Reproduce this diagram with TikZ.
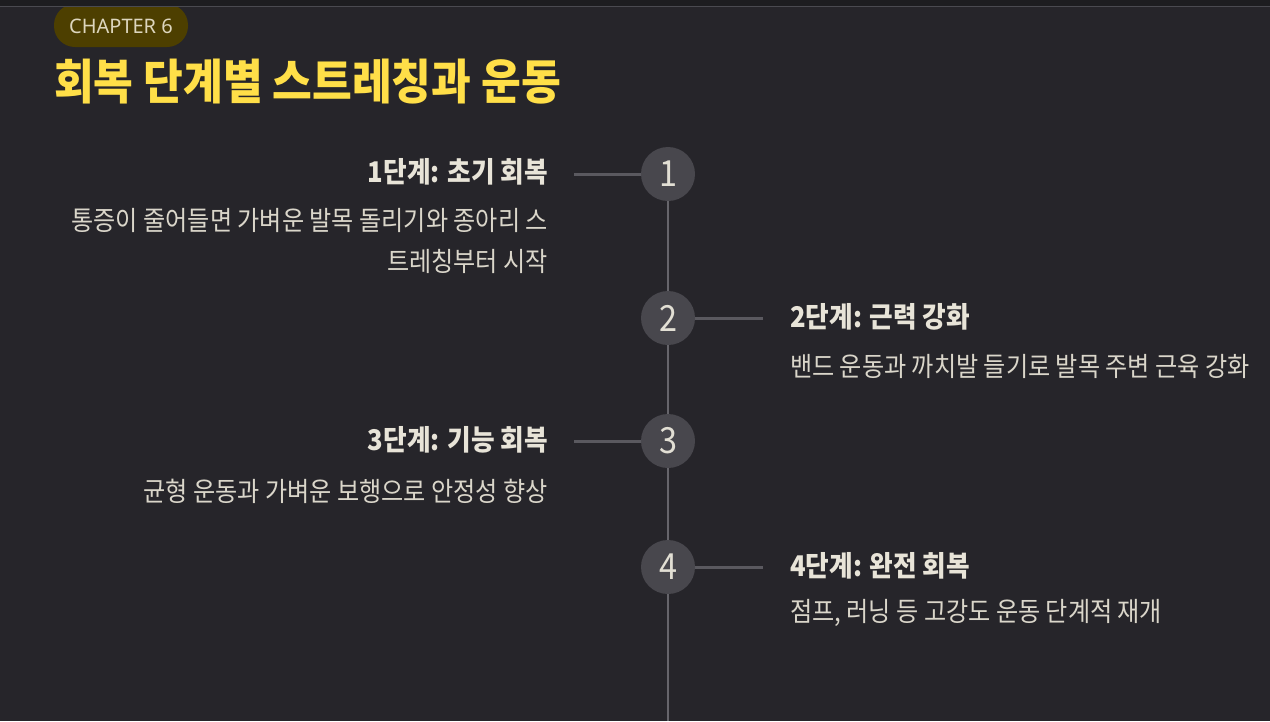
\documentclass[tikz,border=0pt]{standalone}
\usepackage{fontspec}
\setmainfont{Noto Sans CJK KR}
\newfontfamily\kr{Noto Sans CJK KR}[FakeStretch=0.9]
\newfontfamily\latinsans{Noto Sans}
\definecolor{bg}{HTML}{26252A}
\definecolor{topbar}{HTML}{1D1D20}
\definecolor{topline}{HTML}{4A4A50}
\definecolor{badgefill}{HTML}{4D3F00}
\definecolor{badgetext}{HTML}{DDD6BE}
\definecolor{titleyellow}{HTML}{FFDF48}
\definecolor{circfill}{HTML}{48474D}
\definecolor{numcol}{HTML}{E2DFD4}
\definecolor{vline}{HTML}{66656B}
\definecolor{hline}{HTML}{5A595F}
\definecolor{steptitle}{HTML}{E8E4D8}
\definecolor{stepdesc}{HTML}{DAD6CA}
\tikzset{
  stepcirc/.style={circle, fill=circfill, minimum size=54pt, inner sep=0pt, text=numcol, font=\kr\fontsize{36}{36}\selectfont},
  steptitlenode/.style={inner sep=0pt, text=steptitle, font=\kr\bfseries\fontsize{28.5}{32}\selectfont},
  stepdescnode/.style={inner sep=0pt, text=stepdesc, font=\kr\fontsize{26.8}{41}\selectfont},
  vconn/.style={draw=vline, line width=2.3pt},
  hconn/.style={draw=hline, line width=3pt}
}
\begin{document}
\begin{tikzpicture}[x=1pt,y=-1pt]
\useasboundingbox (0,0) rectangle (1270,721);
\fill[bg] (0,0) rectangle (1270,721);
% badge
\fill[badgefill, rounded corners=21pt] (54,4) rectangle (188,47);
\node[inner sep=0pt, text=badgetext, font=\latinsans\fontsize{20}{22}\selectfont] (badge) at (121,26) {CHAPTER 6};
% top strip
\fill[topbar] (0,0) rectangle (1270,6);
\draw[topline, line width=1pt] (0,6.5) -- (1270,6.5);
% title
\node[anchor=west, inner sep=0pt, text=titleyellow, font=\kr\bfseries\fontsize{48}{52}\selectfont] (title) at (54,82) {회복 단계별 스트레칭과 운동};
% circles
\node[stepcirc] (c1) at (668,174) {1};
\node[stepcirc] (c2) at (668,318) {2};
\node[stepcirc] (c3) at (668,441) {3};
\node[stepcirc] (c4) at (668,567) {4};
\coordinate (bottom) at (668,721);
% connectors
\coordinate (h1) at (574,174);
\coordinate (h2) at (763,318);
\coordinate (h3) at (574,441);
\coordinate (h4) at (763,567);
\draw[vconn] (c1) -- (c2);
\draw[vconn] (c2) -- (c3);
\draw[vconn] (c3) -- (c4);
\draw[vconn] (c4) -- (bottom);
\draw[hconn] (h1) -- (c1);
\draw[hconn] (c2) -- (h2);
\draw[hconn] (h3) -- (c3);
\draw[hconn] (c4) -- (h4);
% texts
\node[steptitlenode, anchor=east] (t1) at (548,172) {1단계: 초기 회복};
\node[stepdescnode, anchor=north east, align=right] (d1) at (548,208) {통증이 줄어들면 가벼운 발목 돌리기와 종아리 스\\트레칭부터 시작};
\node[steptitlenode, anchor=west] (t2) at (790,317) {2단계: 근력 강화};
\node[stepdescnode, anchor=west] (d2) at (790,366) {밴드 운동과 까치발 들기로 발목 주변 근육 강화};
\node[steptitlenode, anchor=east] (t3) at (548,440) {3단계: 기능 회복};
\node[stepdescnode, anchor=east] (d3) at (548,491) {균형 운동과 가벼운 보행으로 안정성 향상};
\node[steptitlenode, anchor=west] (t4) at (790,566) {4단계: 완전 회복};
\node[stepdescnode, anchor=west] (d4) at (790,613) {점프, 러닝 등 고강도 운동 단계적 재개};
\end{tikzpicture}
\end{document}
